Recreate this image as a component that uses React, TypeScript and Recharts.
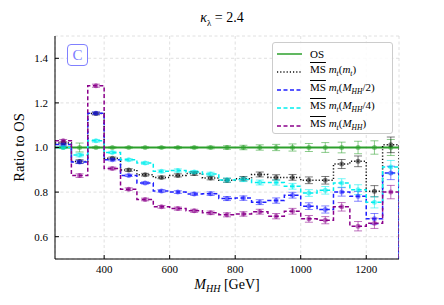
import React from 'react';
import {
  ComposedChart,
  Line,
  Scatter,
  XAxis,
  YAxis,
  CartesianGrid,
  ErrorBar,
  Legend,
  Label,
} from 'recharts';

const BIN_EDGES = [
  250, 300, 350, 400, 450, 500, 550, 600, 650, 700, 750,
  800, 850, 900, 950, 1000, 1050, 1100, 1150, 1200, 1250, 1300,
];
const BIN_CENTERS = [
  275, 325, 375, 425, 475, 525, 575, 625, 675, 725, 775,
  825, 875, 925, 975, 1025, 1075, 1125, 1175, 1225, 1275,
];
const X_TICKS = [400, 600, 800, 1000, 1200];
const Y_TICKS = [0.6, 0.8, 1.0, 1.2, 1.4];

// ratios to OS, one value per bin
const OS = [1, 1, 1, 1, 1, 1, 1, 1, 1, 1, 1, 1, 1, 1, 1, 1, 1, 1, 1, 1, 1];
const MT_MT = [
  1.02, 0.937, 1.152, 0.952, 0.899, 0.878, 0.866, 0.875, 0.883, 0.863, 0.853,
  0.86, 0.879, 0.866, 0.866, 0.853, 0.853, 0.926, 0.938, 0.804, 1.012,
];
const MT_HALF = [
  1.013, 0.935, 1.154, 0.945, 0.875, 0.841, 0.805, 0.8, 0.792, 0.793, 0.771,
  0.773, 0.755, 0.762, 0.786, 0.737, 0.722, 0.801, 0.781, 0.68, 0.886,
];
const MT_QUARTER = [
  1.0, 0.966, 1.03, 0.978, 0.945, 0.93, 0.893, 0.897, 0.89, 0.881, 0.854,
  0.857, 0.843, 0.843, 0.826, 0.796, 0.808, 0.841, 0.811, 0.754, 0.912,
];
const MT_FULL = [
  1.03, 0.874, 1.277, 0.906, 0.813, 0.767, 0.734, 0.726, 0.716, 0.707, 0.698,
  0.702, 0.712, 0.692, 0.714, 0.68, 0.674, 0.734, 0.647, 0.66, 0.8,
];

// statistical errors per bin
const ERR_OS = [
  0.004, 0.02, 0.003, 0.003, 0.003, 0.003, 0.004, 0.004, 0.005, 0.006, 0.008,
  0.01, 0.012, 0.014, 0.016, 0.018, 0.022, 0.024, 0.028, 0.03, 0.036,
];
const ERR_MT = [
  0.005, 0.008, 0.006, 0.005, 0.006, 0.006, 0.006, 0.007, 0.008, 0.008, 0.009,
  0.01, 0.011, 0.012, 0.013, 0.015, 0.017, 0.02, 0.024, 0.025, 0.035,
];
const ERR_HALF = [
  0.005, 0.007, 0.006, 0.005, 0.005, 0.005, 0.006, 0.006, 0.007, 0.008, 0.009,
  0.01, 0.011, 0.012, 0.013, 0.015, 0.016, 0.019, 0.022, 0.024, 0.03,
];
const ERR_QUARTER = [
  0.005, 0.008, 0.006, 0.005, 0.005, 0.006, 0.006, 0.007, 0.007, 0.008, 0.009,
  0.01, 0.011, 0.012, 0.013, 0.015, 0.017, 0.019, 0.022, 0.025, 0.03,
];
const ERR_FULL = [
  0.006, 0.008, 0.007, 0.006, 0.006, 0.006, 0.006, 0.007, 0.007, 0.008, 0.009,
  0.01, 0.011, 0.012, 0.013, 0.015, 0.016, 0.019, 0.021, 0.023, 0.03,
];

const FONT = '"Liberation Serif", serif';

const SERIES = [
  { key: 'os', values: OS, errors: ERR_OS, color: '#2ca02c', dash: undefined, width: 1.8, legend: 'OS' },
  { key: 'mt', values: MT_MT, errors: ERR_MT, color: '#111111', dash: '1.2 2', width: 1.5, legend: 'mt' },
  { key: 'half', values: MT_HALF, errors: ERR_HALF, color: '#1f1fff', dash: '4 2.5', width: 1.5, legend: '/2' },
  { key: 'quarter', values: MT_QUARTER, errors: ERR_QUARTER, color: '#00eeee', dash: '4 2.5', width: 1.5, legend: '/4' },
  { key: 'full', values: MT_FULL, errors: ERR_FULL, color: '#8b008b', dash: '4 2.5', width: 1.5, legend: '' },
];

function stepData(values: number[]) {
  const pts = BIN_EDGES.slice(0, -1).map((x, i) => ({ x, y: values[i] }));
  const last = values[values.length - 1];
  pts.push({ x: BIN_EDGES[BIN_EDGES.length - 1], y: last });
  if (values !== OS) pts.push({ x: BIN_EDGES[BIN_EDGES.length - 1], y: 0 });
  return pts;
}

function pointData(values: number[], errors: number[]) {
  return BIN_CENTERS.map((x, i) => ({ x, y: values[i], err: errors[i] }));
}

const subStyle = { fontSize: 7.5, fontStyle: 'italic' as const };

function MsLabel({ arg }: { arg: string }) {
  return (
    <span>
      <span style={{ textDecoration: 'overline' }}>MS</span>{' '}
      <i>m</i>
      <sub style={subStyle}>t</sub>(
      {arg === 'mt' ? (
        <>
          <i>m</i>
          <sub style={subStyle}>t</sub>
        </>
      ) : (
        <>
          <i>M</i>
          <sub style={subStyle}>HH</sub>
          {arg}
        </>
      )}
      )
    </span>
  );
}

function LegendBox() {
  return (
    <div
      style={{
        fontFamily: FONT,
        fontSize: 11,
        background: 'rgba(255,255,255,0.85)',
        border: '1px solid #cccccc',
        borderRadius: 3,
        padding: '2px 2px 2px 3px',
        boxSizing: 'border-box',
        width: 121,
        height: 92,
        whiteSpace: 'nowrap',
      }}
    >
      {SERIES.map((s) => (
        <div key={s.key} style={{ display: 'flex', alignItems: 'center', height: 18, lineHeight: '12px' }}>
          <svg width={28} height={6} style={{ marginRight: 6, flexShrink: 0 }}>
            <line
              x1={1}
              y1={3}
              x2={26}
              y2={3}
              stroke={s.color}
              strokeWidth={1.5}
              strokeDasharray={s.dash}
            />
          </svg>
          {s.key === 'os' ? <span>OS</span> : <MsLabel arg={s.legend} />}
        </div>
      ))}
    </div>
  );
}

const emptyTick = () => <g />;

export default function App() {
  return (
    <div style={{ position: 'absolute', left: 0, top: 0, width: 444, height: 305, background: '#fff', fontFamily: FONT }}>
      <div
        style={{
          position: 'absolute',
          top: 10,
          left: 0,
          width: 444,
          textAlign: 'center',
          fontSize: 14,
          zIndex: 2,
        }}
      >
        <i>κ</i>
        <sub style={{ fontSize: 9 }}>λ</sub> = 2.4
      </div>
      <div
        style={{
          position: 'absolute',
          left: 67,
          top: 44,
          width: 21,
          height: 22,
          border: '1px solid #8080ff',
          borderRadius: 4,
          color: '#8080ff',
          fontSize: 15,
          lineHeight: '21px',
          textAlign: 'center',
          background: '#fff',
          boxSizing: 'border-box',
          zIndex: 2,
        }}
      >
        C
      </div>
      <ComposedChart width={444} height={305} margin={{ top: 36, right: 45, bottom: 0, left: 0 }} style={{ fontFamily: FONT }}>
        <CartesianGrid stroke="#d8d8d8" strokeDasharray="3 2.5" strokeWidth={0.8} />
        <XAxis
          dataKey="x"
          type="number"
          domain={[250, 1300]}
          ticks={X_TICKS}
          allowDataOverflow
          height={46}
          stroke="#000"
          tickSize={-4}
          tickMargin={10}
          tick={{ fontSize: 11, fill: '#000', fontFamily: FONT }}
        >
          <Label
            content={({ viewBox }: any) => (
              <text x={viewBox.x + viewBox.width / 2} y={289} textAnchor="middle" fontSize={14} fill="#000" fontFamily={FONT}>
                <tspan fontStyle="italic">M</tspan>
                <tspan fontStyle="italic" fontSize={10} dy={3}>HH</tspan>
                <tspan dy={-3}> [GeV]</tspan>
              </text>
            )}
          />
        </XAxis>
        <XAxis
          xAxisId="top"
          orientation="top"
          type="number"
          domain={[250, 1300]}
          ticks={X_TICKS}
          height={0}
          stroke="#000"
          tickSize={-4}
          tick={emptyTick}
        />
        <YAxis
          type="number"
          domain={[0.5, 1.5]}
          ticks={Y_TICKS}
          allowDataOverflow
          width={55}
          stroke="#000"
          tickSize={-4}
          tickMargin={11}
          tickFormatter={(v: number) => v.toFixed(1)}
          tick={{ fontSize: 11, fill: '#000', fontFamily: FONT }}
        >
          <Label
            content={({ viewBox }: any) => (
              <text
                x={24}
                y={viewBox.y + viewBox.height / 2}
                transform={`rotate(-90 24 ${viewBox.y + viewBox.height / 2})`}
                textAnchor="middle"
                fontSize={14.5}
                fill="#000"
                fontFamily={FONT}
              >
                Ratio to OS
              </text>
            )}
          />
        </YAxis>
        <YAxis
          yAxisId="right"
          orientation="right"
          type="number"
          domain={[0.5, 1.5]}
          ticks={Y_TICKS}
          width={0}
          stroke="#000"
          tickSize={-4}
          tick={emptyTick}
        />
        {SERIES.map((s) => (
          <Line
            key={`line-${s.key}`}
            data={stepData(s.values)}
            dataKey="y"
            type="stepAfter"
            stroke={s.color}
            strokeWidth={s.width}
            strokeDasharray={s.dash}
            dot={false}
            activeDot={false}
            isAnimationActive={false}
          />
        ))}
        {SERIES.map((s) => (
          <Scatter
            key={`pts-${s.key}`}
            data={pointData(s.values, s.errors)}
            dataKey="y"
            isAnimationActive={false}
            shape={(p: any) => (
              <circle cx={p.cx} cy={p.cy} r={2.5} fill={s.color} fillOpacity={0.55} />
            )}
          >
            <ErrorBar dataKey="err" direction="y" width={4} stroke={s.color} strokeOpacity={0.55} strokeWidth={1} />
          </Scatter>
        ))}
        <Legend
          layout="vertical"
          align="center"
          verticalAlign="middle"
          wrapperStyle={{ position: 'absolute', left: 272, top: 42, width: 122, height: 93 }}
          content={() => <LegendBox />}
        />
      </ComposedChart>
    </div>
  );
}
